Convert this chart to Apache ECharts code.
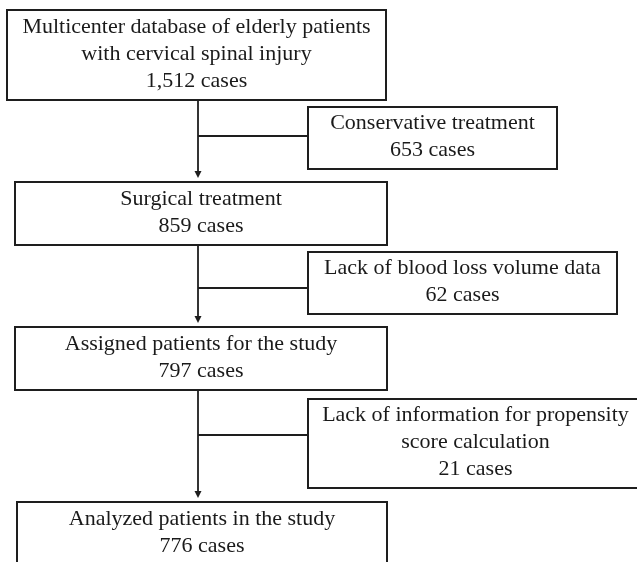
<!DOCTYPE html>
<html><head><meta charset="utf-8">
<script src="https://cdn.jsdelivr.net/npm/echarts@6/dist/echarts.min.js"></script>
<style>html,body{margin:0;padding:0;background:#fff}#c{width:637px;height:562px}</style>
</head><body><div id="c"></div>
<script>
// ---- data ----
const mainSteps = [
  'Multicenter database of elderly patients\nwith cervical spinal injury',
  'Surgical treatment',
  'Assigned patients for the study',
  'Analyzed patients in the study'
];
const mainCounts = ['1,512', '859', '797', '776'];
const exclusionReasons = [
  'Conservative treatment',
  'Lack of blood loss volume data',
  'Lack of information for propensity\nscore calculation'
];
const exclusionCounts = ['653', '62', '21'];

// ---- layout (canvas units, mapped through the value axes) ----
const mainBoxes = [[7, 10, 386, 100], [15, 182, 387, 245], [15, 327, 387, 390], [17, 502, 387, 565]];
const exclBoxes = [[308, 107, 557, 169], [308, 252, 617, 314], [308, 399, 643, 488]];
const trunkX = 198;
const branchY = [136, 288, 435];

const LINE = '#1e1e1e';
const FONT = '"Liberation Serif", "Times New Roman", serif';

function boxLabel(kind, i) {
  return kind === 'main'
    ? mainSteps[i] + '\n' + mainCounts[i] + ' cases'
    : exclusionReasons[i] + '\n' + exclusionCounts[i] + ' cases';
}

function boxRender(kind) {
  return function (params, api) {
    const a = api.coord([api.value(0), api.value(1)]);
    const b = api.coord([api.value(2), api.value(3)]);
    const x = Math.min(a[0], b[0]), y = Math.min(a[1], b[1]);
    const w = Math.abs(b[0] - a[0]), h = Math.abs(b[1] - a[1]);
    return {
      type: 'group',
      children: [
        { type: 'rect', shape: { x: x, y: y, width: w, height: h },
          style: { fill: '#fff', stroke: LINE, lineWidth: 2 } },
        { type: 'text', x: x + w / 2, y: y + h / 2 - 1,
          style: { text: boxLabel(kind, params.dataIndex), fontFamily: FONT, fontSize: 22,
                   lineHeight: 27, align: 'center', verticalAlign: 'middle', fill: '#1a1a1a' } }
      ]
    };
  };
}

const connectorData = branchY.map((by, i) => [trunkX, mainBoxes[i][3], by, exclBoxes[i][0], mainBoxes[i + 1][1]]);

function connectorRender(params, api) {
  const top = api.coord([api.value(0), api.value(1)]);
  const br = api.coord([api.value(0), api.value(2)]);
  const brEnd = api.coord([api.value(3), api.value(2)]);
  const next = api.coord([api.value(0), api.value(4)]);
  const tipY = next[1] - 4;
  const ah = 7, aw = 3.5;
  return {
    type: 'group',
    children: [
      { type: 'line', shape: { x1: top[0], y1: top[1], x2: top[0], y2: tipY - ah + 1 },
        style: { stroke: LINE, lineWidth: 1.8 } },
      { type: 'line', shape: { x1: br[0], y1: br[1], x2: brEnd[0], y2: brEnd[1] },
        style: { stroke: LINE, lineWidth: 1.8 } },
      { type: 'polygon', shape: { points: [[top[0] - aw, tipY - ah], [top[0] + aw, tipY - ah], [top[0], tipY]] },
        style: { fill: LINE } }
    ]
  };
}

const chart = echarts.init(document.getElementById('c'), null, { renderer: 'canvas' });
chart.setOption({
  backgroundColor: '#fff',
  animation: false,
  grid: { left: 0, right: 0, top: 0, bottom: 0 },
  xAxis: { type: 'value', min: 0, max: 637, show: false },
  yAxis: { type: 'value', min: 0, max: 562, inverse: true, show: false },
  series: [
    { type: 'custom', name: 'connectors', data: connectorData, renderItem: connectorRender,
      encode: { x: [0, 3], y: [1, 2, 4] }, clip: false, z: 1, silent: true },
    { type: 'custom', name: 'main', data: mainBoxes, renderItem: boxRender('main'),
      encode: { x: [0, 2], y: [1, 3] }, clip: false, z: 2, silent: true },
    { type: 'custom', name: 'exclusions', data: exclBoxes, renderItem: boxRender('excl'),
      encode: { x: [0, 2], y: [1, 3] }, clip: false, z: 2, silent: true }
  ]
});
</script>
</body></html>
